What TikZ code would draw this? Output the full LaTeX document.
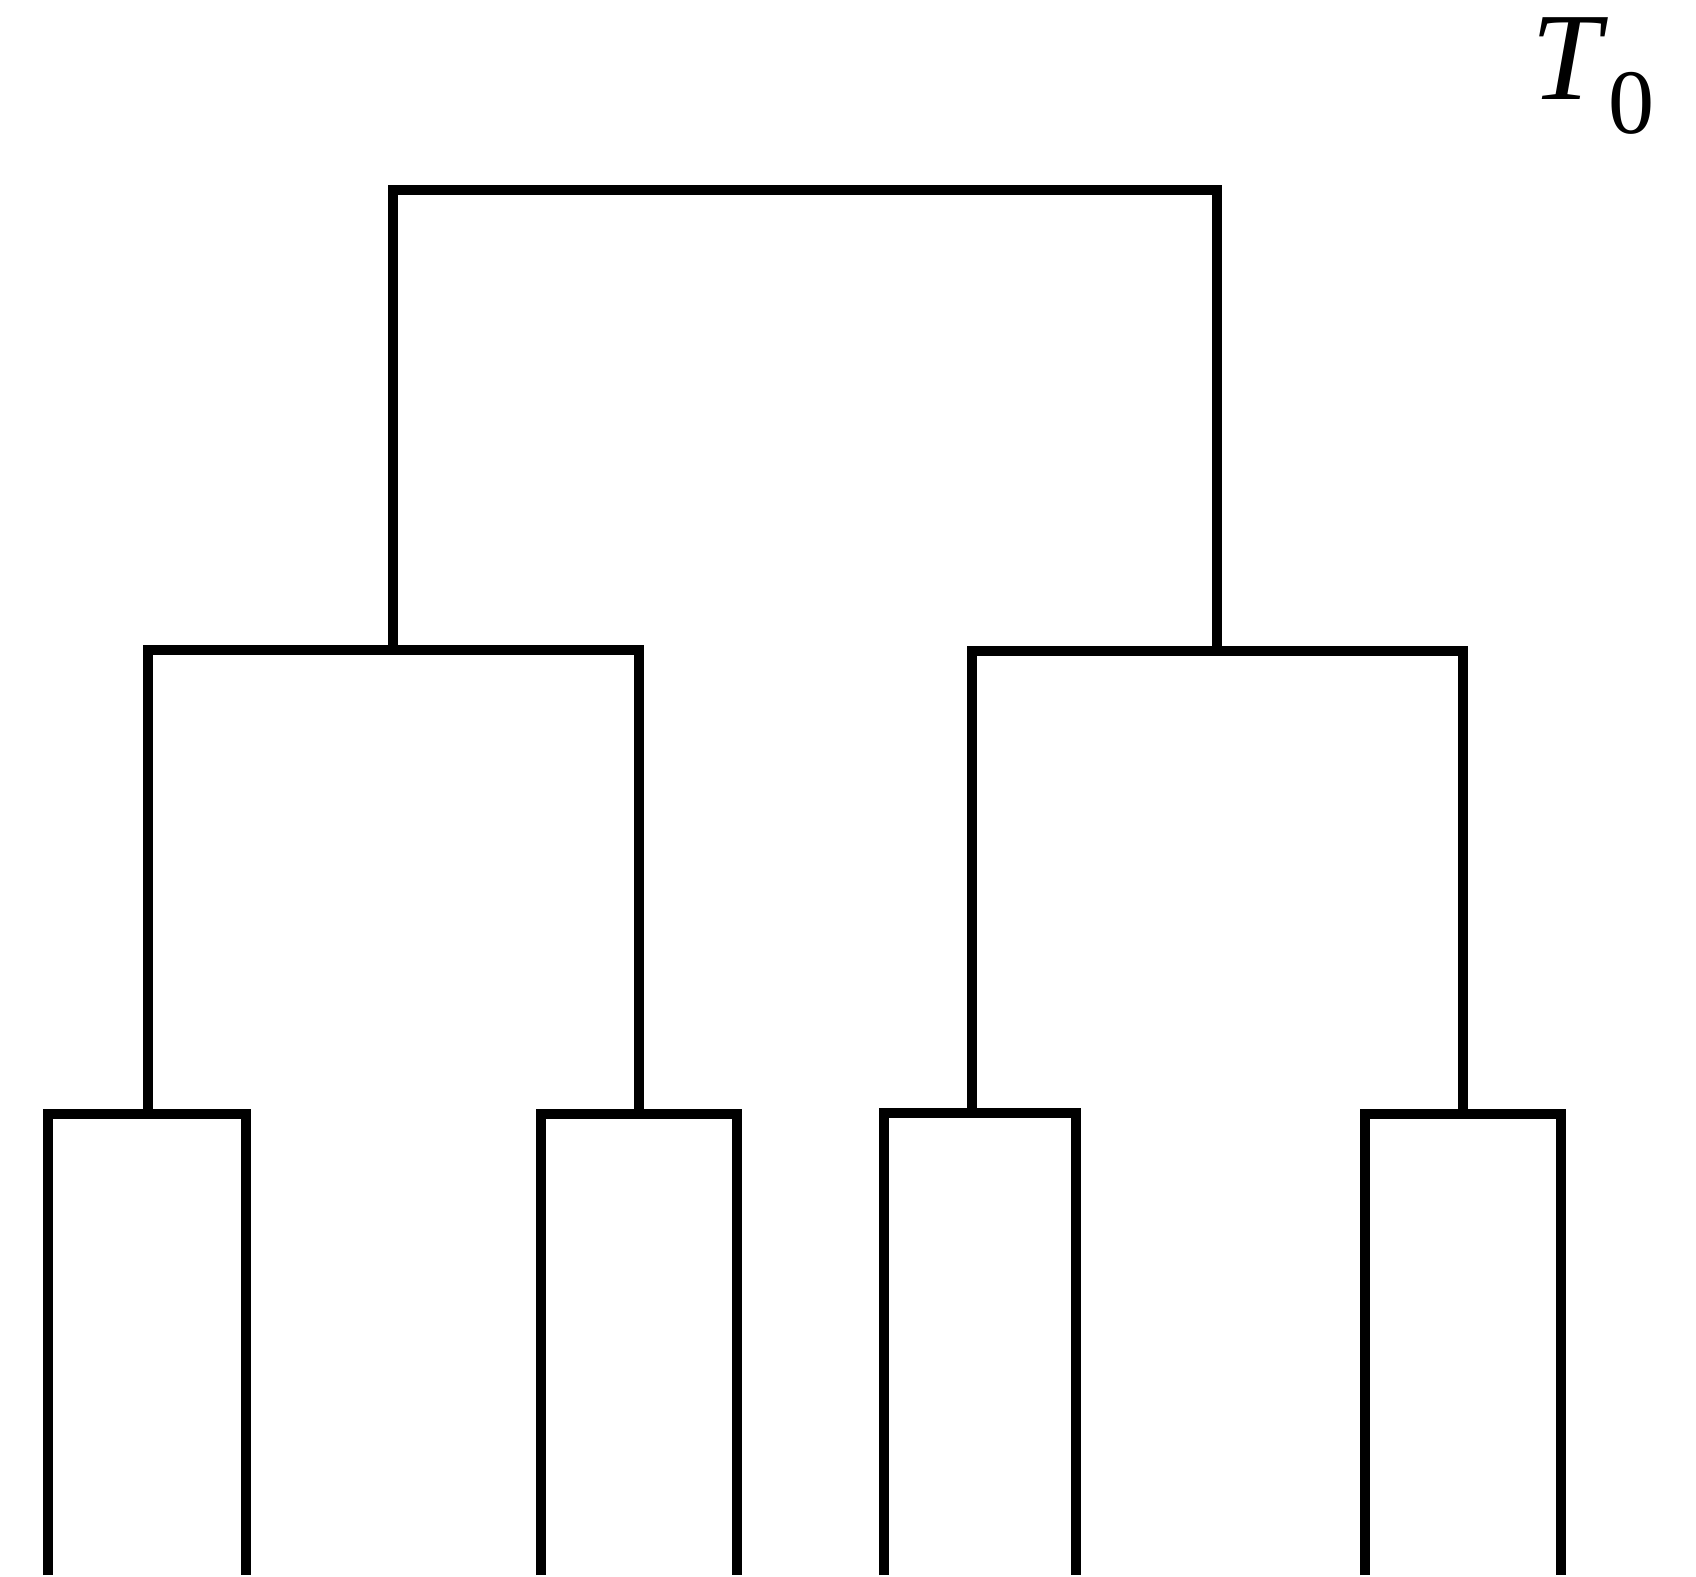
\documentclass[tikz,border=0pt]{standalone}
\usepackage{fontspec}
\setmainfont{Liberation Serif}
\begin{document}
\begin{tikzpicture}[x=1pt,y=-1pt,
  branch/.style={line width=10pt, line join=miter, line cap=butt, black}]
\useasboundingbox (0,0) rectangle (1696,1576);

% leaves (bottom ends)
\coordinate (a1) at (47.5,1575);
\coordinate (a2) at (245.5,1575);
\coordinate (a3) at (540.8,1575);
\coordinate (a4) at (736.6,1575);
\coordinate (a5) at (883.7,1575);
\coordinate (a6) at (1075.5,1575);
\coordinate (a7) at (1365,1575);
\coordinate (a8) at (1560.8,1575);

% inner vertices
\coordinate (b1) at (148,1113.5);
\coordinate (b2) at (638.5,1113.5);
\coordinate (b3) at (972,1113);
\coordinate (b4) at (1462.5,1113.5);
\coordinate (c1) at (393,650);
\coordinate (c2) at (1217,651);
\coordinate (r)  at (805,190);

% lowest level
\draw[branch] (a1) |- (b1) -| (a2);
\draw[branch] (a3) |- (b2) -| (a4);
\draw[branch] (a5) |- (b3) -| (a6);
\draw[branch] (a7) |- (b4) -| (a8);

% middle level
\draw[branch] (b1) |- (c1) -| (b2);
\draw[branch] (b3) |- (c2) -| (b4);

% root
\draw[branch] (c1) |- (r) -| (c2);

% label
\node[anchor=base west, inner sep=0pt, font=\fontsize{125}{125}\selectfont]
  (lbl) at (1531,100) {\textit{T}\raisebox{-34pt}{\fontsize{92}{92}\selectfont 0}};
\end{tikzpicture}
\end{document}
